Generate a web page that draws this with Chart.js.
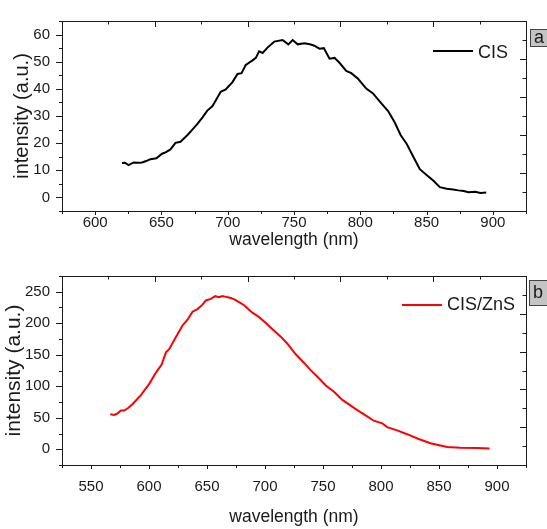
<!DOCTYPE html>
<html>
<head>
<meta charset="utf-8">
<title>CIS and CIS/ZnS emission</title>
<script src="https://cdn.jsdelivr.net/npm/chart.js@4.4.0/dist/chart.umd.min.js"></script>
<style>
  html, body { margin: 0; padding: 0; background: #fff; }
  .panel { position: absolute; left: 0; }
  #panelA { top: 0; }
  #panelB { top: 255px; }
</style>
</head>
<body>
<div class="panel" id="panelA"><canvas id="chartA" width="547" height="255"></canvas></div>
<div class="panel" id="panelB"><canvas id="chartB" width="547" height="274"></canvas></div>
<script>
// Panel a: CIS emission
const cisWavelength = [620.2, 622.5, 625.2, 629, 632, 635.4, 638.5, 641.7, 646.2, 650.5, 653.5, 656.8,
  660.6, 664.4, 669.5, 673, 677, 681, 684.6, 688.4, 691.5, 694.7, 698.5, 703.6, 707.4, 710.4,
  713.6, 718.7, 721.2, 723.7, 726.3, 730, 735.1, 741.4, 745.7, 749, 752.8, 757.8, 762, 765.4,
  769.2, 772.5, 776.8, 780.6, 784.3, 789.4, 793.2, 798.3, 804.5, 809.6, 814.6, 821, 826,
  830.5, 834.8, 839.9, 844.9, 850, 855, 860, 865.2, 870, 874, 878, 881.6, 886.7, 890.5, 895];
const cisIntensity = [12.7, 12.8, 11.9, 12.9, 12.8, 12.9, 13.4, 14.1, 14.4, 16.1, 16.7, 17.7,
  20.1, 20.5, 22.9, 24.8, 27, 29.5, 32, 33.6, 36.2, 38.9, 39.8, 42.5, 45.5, 45.8,
  48.8, 50.5, 51.4, 53.8, 53.2, 55.2, 57.4, 58, 56.4, 58, 56.4, 56.8, 56.4, 55.9,
  54.8, 55, 51.1, 51.4, 49.6, 46.6, 45.8, 43.7, 40.1, 38.3, 35.4, 31.8, 27.6,
  22.9, 19.9, 15.1, 10.4, 8.3, 6.2, 3.8, 3.2, 2.9, 2.6, 2.4, 1.9, 2.1, 1.6, 1.8];

// Panel b: CIS/ZnS emission
const znsWavelength = [566.6, 570.1, 573, 575.8, 578.7, 582, 585.9, 593, 600.2, 606, 610.9, 614.6,
  617.4, 623.1, 628.9, 633.2, 637.5, 641.8, 646.1, 649, 653.3, 657, 660.5, 663.3, 667, 670.5,
  674, 677.7, 682, 685.5, 689.2, 694.9, 700.7, 706.4, 713.6, 719.3, 726.5, 733.7, 739.5,
  745.2, 752.4, 759.5, 766.7, 773.9, 779.5, 786.7, 793.8, 801, 805.3, 813.9, 822.5, 832.5,
  842.6, 851.2, 857, 868.4, 882.8, 893.6];
const znsIntensity = [55.4, 54.5, 57, 61.5, 61.5, 65.5, 71.8, 86, 103.8, 121.7, 134.4, 153.8,
  158.8, 177.6, 196.5, 205.7, 218.4, 222.5, 229.5, 236.2, 238.7, 243, 241.3, 243.3, 241.5, 240.2,
  237.5, 233.6, 228.6, 222.5, 216.8, 209.7, 200.5, 190.4, 178.7, 167.5, 150.7, 137, 125.2,
  115, 101.2, 91.2, 78.3, 69.2, 62.1, 53.9, 45.3, 41.2, 35.1, 30, 23.9, 16.3,
  9.6, 6.1, 3.5, 2.5, 2, 1.2];

// axis ranges and tick steps
const aXRange = [575, 925];
const aYRange = [-5, 65];
const bXRange = [525, 925];
const bYRange = [-25, 275];
const xMinorStep = 25, xLabelStep = 50;
const aYMinorStep = 5, aYLabelStep = 10;
const bYMinorStep = 25, bYLabelStep = 50;

const FONT = '"Liberation Sans", Arial, sans-serif';
const INK = '#1a1a1a';

const isMultiple = (v, step) => Math.abs(v / step - Math.round(v / step)) < 1e-6;

// box, tick marks, legend and panel tag, drawn on top of the scales
const panelFrame = {
  id: 'panelFrame',
  afterDraw(chart, args, opts) {
    const { ctx, chartArea: a, scales } = chart;
    ctx.save();
    ctx.strokeStyle = INK;
    ctx.lineWidth = 1;
    ctx.strokeRect(a.left + 0.5, a.top + 0.5, a.right - a.left, a.bottom - a.top);

    ctx.beginPath();
    scales.x.ticks.forEach(t => {
      const px = Math.round(scales.x.getPixelForValue(t.value)) + 0.5;
      const len = isMultiple(t.value, opts.xStep) ? 4 : 3;
      ctx.moveTo(px, a.bottom);
      ctx.lineTo(px, a.bottom + len);
    });
    scales.y.ticks.forEach(t => {
      const py = Math.round(scales.y.getPixelForValue(t.value)) + 0.5;
      const len = isMultiple(t.value, opts.yStep) ? 6 : 3;
      ctx.moveTo(a.left, py);
      ctx.lineTo(a.left - len, py);
    });
    // mirrored inner ticks on top and right edges
    for (let i = 0; i <= 10; i++) {
      const len = i % 2 === 0 ? 6 : 3.5;
      const px = Math.round(a.left + (a.right - a.left) * i / 10) + 0.5;
      ctx.moveTo(px, a.top);
      ctx.lineTo(px, a.top + len);
      const py = Math.round(a.top + (a.bottom - a.top) * i / 10) + 0.5;
      ctx.moveTo(a.right, py);
      ctx.lineTo(a.right - len, py);
    }
    ctx.stroke();

    // legend
    const ds = chart.data.datasets[0];
    ctx.font = '18px ' + FONT;
    const tw = ctx.measureText(ds.label).width;
    const tx = a.right - opts.legendRight - tw;
    ctx.strokeStyle = ds.borderColor;
    ctx.lineWidth = ds.borderWidth;
    ctx.beginPath();
    ctx.moveTo(tx - 45, a.top + opts.legendLineY);
    ctx.lineTo(tx - 5, a.top + opts.legendLineY);
    ctx.stroke();
    ctx.fillStyle = INK;
    ctx.textBaseline = 'middle';
    ctx.textAlign = 'left';
    ctx.fillText(ds.label, tx, a.top + opts.legendTextY);

    // panel tag
    const bx = a.right + opts.tagX, by = a.top + opts.tagY;
    ctx.fillStyle = '#c4c4c4';
    ctx.fillRect(bx, by, 20, opts.tagH);
    ctx.strokeStyle = '#444';
    ctx.lineWidth = 1;
    ctx.strokeRect(bx + 0.5, by + 0.5, 20, opts.tagH);
    ctx.fillStyle = INK;
    ctx.textAlign = 'center';
    ctx.fillText(opts.tag, bx + 9, by + opts.tagH / 2 + 1);
    ctx.restore();
  }
};

function makePanel(canvasId, cfg) {
  const points = cfg.xs.map((x, i) => ({ x: x, y: cfg.ys[i] }));
  return new Chart(document.getElementById(canvasId), {
    type: 'line',
    data: {
      datasets: [{
        label: cfg.label,
        data: points,
        borderColor: cfg.color,
        borderWidth: 2,
        pointRadius: 0,
        tension: 0,
        fill: false
      }]
    },
    options: {
      responsive: false,
      animation: false,
      layout: { padding: { left: 0, right: 21, top: cfg.padTop, bottom: 0 } },
      plugins: {
        legend: { display: false },
        tooltip: { enabled: false },
        panelFrame: cfg.frame
      },
      scales: {
        x: {
          type: 'linear',
          min: cfg.xRange[0],
          max: cfg.xRange[1],
          grid: { display: false, drawTicks: false },
          border: { display: false },
          ticks: {
            stepSize: xMinorStep,
            autoSkip: false,
            maxRotation: 0,
            padding: cfg.xTickPad,
            color: INK,
            font: { family: FONT, size: 15 },
            callback: v => isMultiple(v, xLabelStep) ? String(v) : ''
          },
          title: {
            display: true,
            text: 'wavelength (nm)',
            color: INK,
            font: { family: FONT, size: 17.5 },
            padding: { top: 0, bottom: cfg.xTitlePad }
          },
          afterFit: s => { s.height = cfg.xHeight; }
        },
        y: {
          type: 'linear',
          min: cfg.yRange[0],
          max: cfg.yRange[1],
          grid: { display: false, drawTicks: false },
          border: { display: false },
          ticks: {
            stepSize: cfg.yMinor,
            autoSkip: false,
            padding: 12,
            color: INK,
            font: { family: FONT, size: 15 },
            callback: v => isMultiple(v, cfg.yLabel) ? String(v) : ''
          },
          title: {
            display: true,
            text: 'intensity (a.u.)',
            color: INK,
            font: { family: FONT, size: cfg.yTitleSize },
            padding: { top: cfg.yTitlePad, bottom: 0 }
          },
          afterFit: s => { s.width = 62; }
        }
      }
    },
    plugins: [panelFrame]
  });
}

makePanel('chartA', {
  xs: cisWavelength, ys: cisIntensity, label: 'CIS', color: '#000000',
  xRange: aXRange, yRange: aYRange, yMinor: aYMinorStep, yLabel: aYLabelStep,
  padTop: 15, xHeight: 44, xTickPad: 3, xTitlePad: 4, yTitleSize: 20, yTitlePad: 10,
  frame: { xStep: xLabelStep, yStep: aYLabelStep, legendRight: 18, legendLineY: 30, legendTextY: 32,
           tag: 'a', tagX: 4, tagY: 8, tagH: 17 }
});

makePanel('chartB', {
  xs: znsWavelength, ys: znsIntensity, label: 'CIS/ZnS', color: '#ff0000',
  xRange: bXRange, yRange: bYRange, yMinor: bYMinorStep, yLabel: bYLabelStep,
  padTop: 13, xHeight: 64, xTickPad: 13, xTitlePad: 1, yTitleSize: 21, yTitlePad: 2,
  frame: { xStep: xLabelStep, yStep: bYLabelStep, legendRight: 11, legendLineY: 29, legendTextY: 29,
           tag: 'b', tagX: 3, tagY: 4, tagH: 25 }
});
</script>
</body>
</html>
